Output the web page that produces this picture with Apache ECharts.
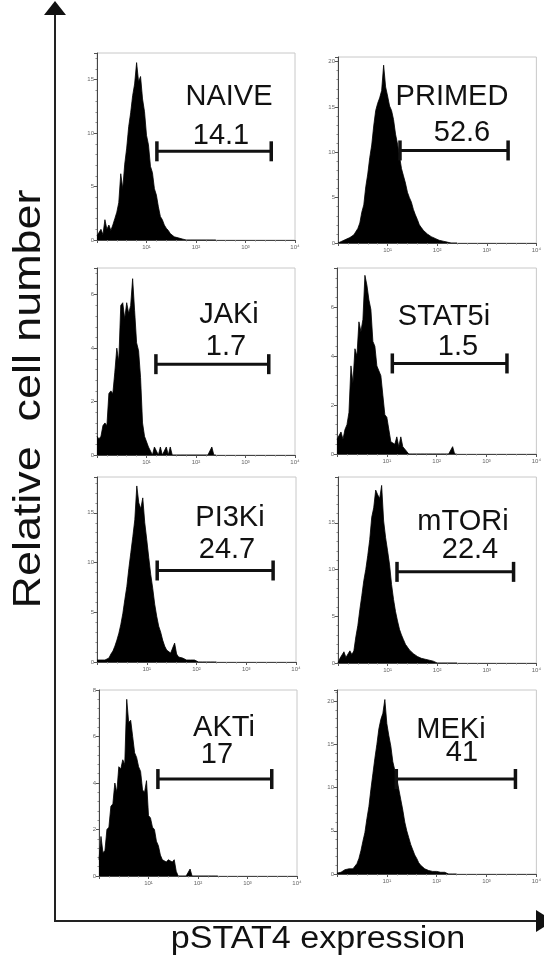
<!DOCTYPE html>
<html>
<head>
<meta charset="utf-8">
<script src="https://cdn.jsdelivr.net/npm/echarts@6/dist/echarts.min.js"></script>
<style>
  html, body { margin: 0; padding: 0; background: #fff; }
  #chart { width: 544px; height: 970px; }
</style>
</head>
<body>
<div id="chart"></div>
<script>
// bin centres, in decades of fluorescence (log10)
var BINS = [0.00, 0.04, 0.08, 0.12, 0.16, 0.20, 0.24, 0.28, 0.32, 0.36,
            0.40, 0.44, 0.48, 0.52, 0.56, 0.60, 0.64, 0.68, 0.72, 0.76,
            0.80, 0.84, 0.88, 0.92, 0.96, 1.00, 1.04, 1.08, 1.12, 1.16,
            1.20, 1.24, 1.28, 1.32, 1.36, 1.40, 1.44, 1.48, 1.52, 1.56,
            1.60, 1.64, 1.68, 1.72, 1.76, 1.80, 1.84, 1.88, 1.92, 1.96,
            2.00, 2.04, 2.08, 2.12, 2.16, 2.20, 2.24, 2.28, 2.32, 2.36, 2.40];

var naive = [0.4,0.7,1.0,0.5,1.9,1.0,1.4,0.9,1.4,2.0,
             2.6,3.5,6.2,4.8,7.1,8.6,10.6,11.9,13.5,14.6,
             16.6,14.8,15.3,13.2,12.0,9.8,8.9,6.9,6.3,4.8,
             4.2,3.1,2.2,1.9,1.4,1.1,0.9,0.6,0.5,0.3,
             0.4,0.2,0.3,0.1,0.1,0,0.1,0,0,0,
             0,0,0,0,0,0,0,0,0,0,0];
var primed = [0,0,0.2,0.3,0.4,0.3,0.6,0.5,0.9,1.1,
              1.6,2.2,3.4,4.2,6.2,7.6,9.4,10.8,12.9,14.6,
              15.4,16.0,16.8,19.6,17.2,16.2,15.1,14.6,13.6,12.0,
              10.9,9.6,8.2,7.4,6.6,5.6,5.0,4.5,3.7,3.1,
              2.6,2.0,1.7,1.4,1.2,1.0,0.9,0.7,0.6,0.5,
              0.5,0.3,0.4,0.2,0.2,0.1,0,0,0,0,0];
var jaki = [0.7,0.6,0.7,1.1,1.2,1.1,2.3,2.4,2.3,3.1,
            4.0,3.5,5.6,5.7,5.1,5.7,5.3,5.6,6.6,5.4,
            4.2,3.9,2.9,1.2,0.7,0.7,0.3,0.3,0,0.3,
            0.3,0,0.3,0,0,0.3,0,0.3,0,0,
            0,0,0,0,0,0,0,0,0,0,
            0,0,0,0,0,0,0,0,0.3,0,0];
var stat5i = [0.6,0.6,0.9,0.6,1.0,1.2,1.7,3.6,2.9,4.3,
              4.0,5.4,5.0,5.5,7.3,6.9,6.3,5.9,4.6,4.4,
              3.6,3.4,3.2,2.4,1.6,1.5,1.0,0.5,0.5,0.4,
              0.7,0.3,0.7,0.3,0.3,0.1,0,0,0,0,
              0,0,0,0,0,0,0,0,0,0,
              0,0,0,0,0,0,0,0,0.3,0,0];
var pi3ki = [0.2,0.3,0.2,0.3,0.2,0.3,0.4,0.8,1.1,1.6,
             2.2,2.9,3.8,4.9,6.3,7.6,9.4,11.0,12.6,14.3,
             17.7,16.0,15.4,16.5,14.0,12.3,10.5,8.8,7.4,5.8,
             4.6,3.6,3.0,2.2,1.6,1.2,1.0,0.9,1.1,1.9,
             0.8,0.5,0.3,0.4,0.3,0.2,0.3,0.2,0.1,0.2,
             0,0,0,0,0,0,0,0,0,0,0];
var mtori = [0,0.5,0.6,1.2,0.6,0.8,1.3,0.9,1.3,2.8,
             4.0,5.7,7.2,8.8,10.0,11.5,13.2,15.6,16.6,18.5,
             18.0,17.6,19.0,15.2,13.4,12.0,10.5,8.4,6.8,5.5,
             4.5,3.6,3.0,2.5,2.0,1.7,1.4,1.2,1.0,0.8,
             0.7,0.6,0.5,0.4,0.4,0.3,0.3,0.4,0.2,0.1,
             0,0.1,0,0.2,0,0,0,0,0,0,0];
var akti = [0.7,1.7,1.0,1.1,2.0,2.1,3.0,3.1,4.0,3.6,
            4.7,4.6,5.0,4.8,7.6,6.6,6.7,6.0,5.3,5.1,
            4.7,4.5,3.7,3.6,4.1,2.6,2.5,2.1,2.0,1.5,
            1.3,0.9,0.7,0.7,0.6,0.7,0.7,0.6,0.7,0.2,
            0,0,0,0,0,0,0.3,0,0,0,
            0,0,0,0,0,0,0,0,0,0,0];
var meki = [0.1,0.3,0.2,0.3,0.5,0.3,0.6,0.5,0.6,0.8,
            1.2,1.8,2.7,3.8,4.8,6.4,7.8,9.8,11.6,13.4,
            15.0,16.8,17.9,18.6,20.2,17.4,16.0,14.8,13.0,12.0,
            11.0,9.8,8.6,7.4,6.0,5.0,4.2,3.4,2.8,2.2,
            1.8,1.3,1.0,0.8,0.6,0.5,0.4,0.3,0.3,0.2,
            0.3,0.1,0.2,0,0.2,0.1,0,0,0,0,0];

var PANELS   = ['NAIVE', 'PRIMED', 'JAKi', 'STAT5i', 'PI3Ki', 'mTORi', 'AKTi', 'MEKi'];
var PERCENTS = ['14.1', '52.6', '1.7', '1.5', '24.7', '22.4', '17', '41'];
var COUNTS   = [naive, primed, jaki, stat5i, pi3ki, mtori, akti, meki];
var Y_MAX    = [17.5, 20.5, 7, 7.6, 18.6, 19.9, 8, 21.3];
var Y_STEP   = [5, 5, 2, 2, 5, 5, 2, 5];
var GATE_FROM = [1.21, 1.25, 1.19, 1.11, 1.21, 1.19, 1.19, 1.19];
var GATE_TO   = [3.52, 3.43, 3.47, 3.41, 3.54, 3.54, 3.49, 3.58];
var GATE_AT   = [8.3, 10.2, 3.4, 3.7, 9.2, 9.75, 4.17, 11.0];
var X_TICKS  = ['', '10\u00b9', '10\u00b2', '10\u00b3', '10\u2074'];

// layout: plot boxes [left, top, width, height] and label centres
var BOXES = [[97, 53, 198, 187], [338, 57, 199, 186],
             [97, 268, 198, 187], [337, 268, 200, 186],
             [97, 477, 199, 185], [338, 477, 199, 186],
             [99, 690, 198, 186], [337, 690, 200, 184]];
var NAME_POS = [[229, 97], [452, 97], [229, 315], [444, 317],
                [230, 518], [463, 522], [224, 728], [451, 730]];
var PCT_POS  = [[221, 136], [462, 133], [226, 347], [458, 347],
                [227, 550], [470, 550], [217, 755], [462, 753]];

var chart = echarts.init(document.getElementById('chart'), null, { renderer: 'canvas' });

var grids = [], xAxes = [], yAxes = [], series = [], graphics = [];
var font = '"Liberation Sans", Arial, sans-serif';

PANELS.forEach(function (name, i) {
  var b = BOXES[i];
  grids.push({ left: b[0], top: b[1], width: b[2], height: b[3],
               show: true, borderColor: '#c8c8c8', borderWidth: 1 });
  xAxes.push({
    type: 'value', gridIndex: i, min: 0, max: 4, interval: 1,
    axisLine: { show: true, lineStyle: { color: '#444', width: 1 } },
    axisTick: { show: true, length: 3, lineStyle: { color: '#555' } },
    minorTick: { show: true, splitNumber: 5, length: 1.5, lineStyle: { color: '#888' } },
    splitLine: { show: false },
    axisLabel: { fontSize: 6, color: '#666', margin: 4, fontFamily: font,
                 formatter: function (v) { return X_TICKS[Math.round(v)] || ''; } }
  });
  var step = Y_STEP[i];
  yAxes.push({
    type: 'value', gridIndex: i, min: 0, max: Y_MAX[i], interval: step,
    axisLine: { show: true, lineStyle: { color: '#444', width: 1 } },
    axisTick: { show: true, length: 3, lineStyle: { color: '#555' } },
    minorTick: { show: true, splitNumber: 5, length: 1.5, lineStyle: { color: '#888' } },
    splitLine: { show: false },
    axisLabel: { fontSize: 6, color: '#666', margin: 3, fontFamily: font,
                 formatter: function (v) { return (Math.abs(v % step) < 1e-6) ? String(v) : ''; } }
  });

  var pts = COUNTS[i].map(function (c, k) { return [BINS[k], c]; });
  series.push({
    type: 'line', xAxisIndex: i, yAxisIndex: i, data: pts,
    symbol: 'none', silent: true, animation: false,
    lineStyle: { color: '#000', width: 0.8 },
    areaStyle: { color: '#000', opacity: 1 }
  });
  series.push({
    type: 'line', xAxisIndex: i, yAxisIndex: i,
    data: [[GATE_FROM[i], GATE_AT[i]], [GATE_TO[i], GATE_AT[i]]],
    symbol: 'rect', symbolSize: [3.5, 20], showSymbol: true,
    silent: true, animation: false, z: 5,
    lineStyle: { color: '#111', width: 3 },
    itemStyle: { color: '#111', borderWidth: 0 }
  });

  graphics.push({ type: 'text', x: NAME_POS[i][0], y: NAME_POS[i][1], z: 10,
    style: { text: name, align: 'center', verticalAlign: 'middle',
             font: '29px ' + font, fill: '#111' } });
  graphics.push({ type: 'text', x: PCT_POS[i][0], y: PCT_POS[i][1], z: 10,
    style: { text: PERCENTS[i], align: 'center', verticalAlign: 'middle',
             font: '29px ' + font, fill: '#111' } });
});

// big outer axes with arrows
graphics.push({ type: 'line', shape: { x1: 55, y1: 12, x2: 55, y2: 921 },
                style: { stroke: '#222', lineWidth: 2 } });
graphics.push({ type: 'polygon', shape: { points: [[55, 1], [44, 15], [66, 15]] },
                style: { fill: '#111' } });
graphics.push({ type: 'line', shape: { x1: 54, y1: 921, x2: 538, y2: 921 },
                style: { stroke: '#222', lineWidth: 2 } });
graphics.push({ type: 'polygon', shape: { points: [[536, 910], [536, 932], [554, 921]] },
                style: { fill: '#111' } });

graphics.push({ type: 'text', x: 29, y: 399, rotation: Math.PI / 2, scaleX: 1.15,
  style: { text: 'Relative  cell number', align: 'center', verticalAlign: 'middle',
           font: '39px ' + font, fill: '#111' } });
graphics.push({ type: 'text', x: 318, y: 939, scaleX: 1.1,
  style: { text: 'pSTAT4 expression', align: 'center', verticalAlign: 'middle',
           font: '31px ' + font, fill: '#111' } });

chart.setOption({
  backgroundColor: '#fff',
  animation: false,
  grid: grids,
  xAxis: xAxes,
  yAxis: yAxes,
  series: series,
  graphic: graphics
});
</script>
</body>
</html>
